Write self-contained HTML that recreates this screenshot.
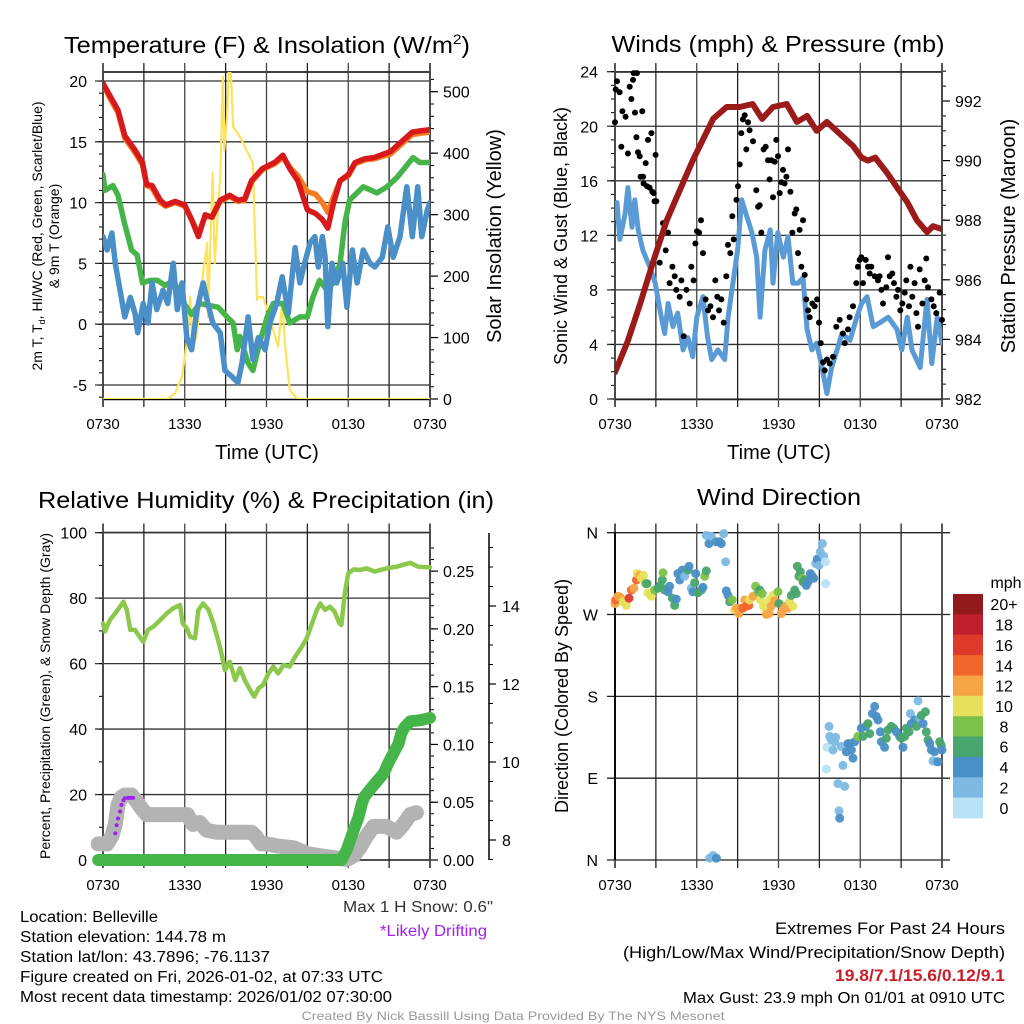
<!DOCTYPE html>
<html><head><meta charset="utf-8"><style>
html,body{margin:0;padding:0;background:#fff}
svg{display:block;font-family:"Liberation Sans",Arial,sans-serif}
</style></head><body>
<svg id="fig" width="1024" height="1024" viewBox="0 0 1024 1024" xmlns="http://www.w3.org/2000/svg">
<rect width="1024" height="1024" fill="#fff"/>
<defs>
<clipPath id="c1"><rect x="103" y="72" width="327" height="327"/></clipPath>
<clipPath id="c2"><rect x="615" y="72" width="327" height="327"/></clipPath>
</defs>
<text x="267" y="53" font-size="23" text-anchor="middle" textLength="406" lengthAdjust="spacingAndGlyphs">Temperature (F) &amp; Insolation (W/m<tspan font-size="14" dy="-9">2</tspan><tspan dy="9">)</tspan></text>
<text x="778" y="52" font-size="23" text-anchor="middle" textLength="333" lengthAdjust="spacingAndGlyphs">Winds (mph) &amp; Pressure (mb)</text>
<text x="266" y="508" font-size="23" text-anchor="middle" textLength="456" lengthAdjust="spacingAndGlyphs">Relative Humidity (%) &amp; Precipitation (in)</text>
<text x="779" y="505" font-size="23" text-anchor="middle" textLength="164" lengthAdjust="spacingAndGlyphs">Wind Direction</text>

<text x="267" y="459" font-size="20" text-anchor="middle">Time (UTC)</text>
<text x="779" y="459" font-size="20" text-anchor="middle">Time (UTC)</text>

<text transform="translate(42,236) rotate(-90)" font-size="14" text-anchor="middle">2m T, T<tspan font-size="9" dy="3">d</tspan><tspan dy="-3">, HI/WC (Red, Green, Scarlet/Blue)</tspan></text>
<text transform="translate(59,236) rotate(-90)" font-size="14" text-anchor="middle">&amp; 9m T (Orange)</text>
<text transform="translate(501,236) rotate(-90)" font-size="20" text-anchor="middle">Solar Insolation (Yellow)</text>
<text transform="translate(567,236) rotate(-90)" font-size="18" text-anchor="middle">Sonic Wind &amp; Gust (Blue, Black)</text>
<text transform="translate(1015,236) rotate(-90)" font-size="20" text-anchor="middle">Station Pressure (Maroon)</text>
<text transform="translate(50,696) rotate(-90)" font-size="14" text-anchor="middle">Percent, Precipitation (Green), &amp; Snow Depth (Gray)</text>
<text transform="translate(568,696) rotate(-90)" font-size="18" text-anchor="middle">Direction (Colored By Speed)</text>

<g font-size="15.5">
<text x="20" y="922" textLength="138" lengthAdjust="spacingAndGlyphs">Location: Belleville</text>
<text x="20" y="942" textLength="206" lengthAdjust="spacingAndGlyphs">Station elevation: 144.78 m</text>
<text x="20" y="962" textLength="250" lengthAdjust="spacingAndGlyphs">Station lat/lon: 43.7896; -76.1137</text>
<text x="20" y="982" textLength="363" lengthAdjust="spacingAndGlyphs">Figure created on Fri, 2026-01-02, at 07:33 UTC</text>
<text x="20" y="1002" textLength="372" lengthAdjust="spacingAndGlyphs">Most recent data timestamp: 2026/01/02 07:30:00</text>
</g>
<text x="343" y="912" font-size="15.5" fill="#333" textLength="150" lengthAdjust="spacingAndGlyphs">Max 1 H Snow: 0.6"</text>
<text x="380" y="936" font-size="15.5" fill="#a020f0" textLength="107" lengthAdjust="spacingAndGlyphs">*Likely Drifting</text>
<g font-size="16.5" text-anchor="end">
<text x="1005" y="934" textLength="230" lengthAdjust="spacingAndGlyphs">Extremes For Past 24 Hours</text>
<text x="1005" y="958" textLength="382" lengthAdjust="spacingAndGlyphs">(High/Low/Max Wind/Precipitation/Snow Depth)</text>
<text x="1005" y="981" fill="#c8202a" font-weight="bold" textLength="170" lengthAdjust="spacingAndGlyphs">19.8/7.1/15.6/0.12/9.1</text>
<text x="1005" y="1003" font-size="15.5" textLength="322" lengthAdjust="spacingAndGlyphs">Max Gust: 23.9 mph On 01/01 at 0910 UTC</text>
</g>
<text x="513" y="1020" font-size="12" fill="#999" text-anchor="middle" textLength="423" lengthAdjust="spacingAndGlyphs">Created By Nick Bassill Using Data Provided By The NYS Mesonet</text>
<g id="layer"></g>
</svg>
<script>
// ---------- data ----------
const xTickHours = [0, 6, 12, 18, 24];
const xTickLabels = ['0730', '1330', '1930', '0130', '0730'];
const tempTicks = [20, 15, 10, 5, 0, -5];
const insolTicks = [0, 100, 200, 300, 400, 500];
const windTicks = [0, 4, 8, 12, 16, 20, 24];
const presTicks = [982, 984, 986, 988, 990, 992];
const rhTicks = [0, 20, 40, 60, 80, 100];
const precipTicks = [0, 0.05, 0.10, 0.15, 0.20, 0.25];
const snowTicks = [8, 10, 12, 14];
const dirTicks = [0, 90, 180, 270, 360];
const dirTickLabels = ['N', 'E', 'S', 'W', 'N'];
const speedBins = ['0', '2', '4', '6', '8', '10', '12', '14', '16', '18', '20+'];

const tempHours = [0,0.5,1.1,1.6,2.3,2.9,3.2,3.6,4.2,4.6,5.3,6.0,6.5,7.0,7.5,8.0,8.6,9.3,9.9,10.4,10.9,11.7,12.6,13.2,13.7,14.3,15.0,15.6,16.1,16.5,16.9,17.4,18.0,18.5,19.2,19.9,21.1,21.8,22.7,23.3,24];
const temp2m = [19.8,18.8,17.6,15.5,14.4,13.3,11.5,11.4,10.2,9.8,10.1,9.8,8.6,7.2,9.0,8.8,10.2,10.6,10.2,10.3,11.8,12.8,13.3,13.9,12.8,11.8,9.4,9.1,8.6,7.9,9.9,11.8,12.3,13.3,13.6,13.7,14.2,14.9,15.8,15.9,16.0];
const temp9m = [19.7,18.6,17.4,15.3,14.2,13.1,11.4,11.2,10.0,9.7,10.0,9.7,8.6,7.4,8.9,8.8,10.1,10.5,10.1,10.2,11.7,12.7,13.2,13.7,12.9,12.2,10.9,10.7,10.0,9.2,10.4,11.8,12.2,13.2,13.5,13.6,14.0,14.7,15.6,15.7,15.8];
const dewHours = [0,0.15,0.73,1.1,1.6,2.1,2.5,2.9,3.45,4.0,4.55,5.05,5.65,6.0,6.5,7.1,7.5,8.45,9.1,9.55,9.85,10.05,10.65,11.0,11.5,12.05,12.5,13.2,13.7,14.45,15.0,15.4,15.9,16.45,16.9,17.4,17.75,18.1,19.1,20.1,20.85,21.6,22.75,23.25,24];
const dewVals = [12.3,11.0,11.4,10.6,8.2,6.1,5.7,3.4,3.6,3.6,3.2,3.5,2.8,1.6,0.8,1.7,1.6,1.4,0.6,0.1,-2.1,-1.0,-3.2,-3.8,-1.5,0.6,1.7,1.7,0.1,0.6,0.6,2.2,3.6,2.8,3.4,5.0,8.3,10.2,11.3,10.8,11.3,12.1,13.7,13.3,13.3];
const wcHours = [0,0.3,0.65,0.9,1.25,1.6,2.0,2.35,2.55,2.95,3.3,3.6,3.95,4.4,4.75,5.15,5.45,5.8,6.15,6.5,6.9,7.35,7.7,8.05,8.6,8.95,9.45,9.9,10.2,10.65,11.0,11.4,11.9,12.25,12.75,13.15,13.6,14.1,14.45,14.8,15.2,15.55,15.8,16.1,16.3,16.5,16.8,17.15,17.6,17.9,18.3,18.65,19.1,19.6,19.95,20.5,20.9,21.3,21.8,22.3,22.7,23.1,23.4,23.8,24];
const wcVals = [7.2,6.1,7.5,5.0,2.8,0.6,2.2,0.9,-0.7,1.7,0.1,3.4,1.2,2.8,1.7,5.0,1.2,3.4,-1.1,-2.1,1.2,3.4,1.7,0.1,-0.7,-3.8,-4.3,-4.8,-3.2,0.6,-2.9,-1.1,-2.1,0.1,1.7,3.9,0.9,6.3,3.4,5.0,6.7,7.2,4.7,7.2,5.5,-0.2,5.0,3.4,5.0,1.4,6.1,3.4,6.1,5.0,4.7,5.5,8.0,5.5,7.2,11.3,7.2,11.3,7.2,9.4,10.0];
const insolHours = [0,4.77,5.3,5.8,6.25,6.4,6.6,6.9,7.25,7.65,7.7,8.05,8.2,8.6,8.8,8.9,9.1,9.25,9.4,9.55,10.05,11.0,11.3,11.4,11.75,12.05,12.5,12.85,13.15,13.35,13.7,14.25,24];
const insolVals = [0,0,10,36,107,166,80,107,189,254,133,368,221,361,524,405,459,547,524,443,427,384,161,166,166,145,112,85,156,91,15,0,0];

const windHours = [0,0.15,0.35,0.75,0.95,1.25,1.45,1.7,2.05,2.55,2.95,3.3,3.65,3.9,4.25,4.6,5.0,5.35,5.7,6.0,6.45,6.8,7.1,7.55,8.05,8.3,8.65,9.0,9.3,9.7,10.05,10.4,10.65,11.0,11.4,11.6,11.95,12.35,12.7,13.05,13.45,13.8,14.1,14.45,14.8,15.2,15.55,15.9,16.3,16.65,17.25,17.75,18.1,18.5,18.95,19.45,20.05,20.7,21.05,21.45,21.8,22.4,22.9,23.25,23.65,24];
const windVals = [13.3,14.4,11.7,13.6,15.5,12.6,14.6,12.4,10.9,9.7,8.5,6.5,4.8,7.0,5.3,6.3,3.6,4.5,3.1,6.0,7.5,4.5,2.9,3.6,2.9,6.0,8.5,10.9,14.6,13.3,12.2,10.4,6.0,10.9,12.4,8.5,12.2,10.4,11.9,8.5,8.5,8.9,5.1,3.6,4.1,2.3,0.4,2.3,3.6,4.8,4.3,6.0,7.0,7.5,5.3,5.6,6.0,5.1,3.6,6.0,3.6,2.3,7.3,2.6,6.0,4.1];
const gustHours = [0,0.05,0.15,0.34,0.46,0.54,0.78,0.95,1.08,1.2,1.32,1.37,1.47,1.57,1.61,1.69,1.81,1.88,2.0,2.06,2.1,2.25,2.35,2.42,2.54,2.67,2.74,2.84,2.91,2.98,3.03,3.28,3.52,3.72,3.89,4.01,4.21,4.38,4.5,4.75,4.87,5.04,5.24,5.48,5.6,5.77,5.9,6.02,6.17,6.31,6.46,6.65,6.83,7.0,7.19,7.36,7.51,7.63,7.8,7.98,8.17,8.29,8.46,8.61,8.71,8.91,9.03,9.15,9.27,9.39,9.52,9.64,9.76,9.88,10.13,10.37,10.5,10.62,10.74,10.91,11.06,11.23,11.35,11.47,11.6,11.72,11.84,11.96,12.09,12.21,12.33,12.45,12.58,12.7,12.87,13.02,13.19,13.31,13.43,13.55,13.68,13.8,13.92,14.04,14.17,14.29,14.48,14.65,14.83,14.97,15.1,15.27,15.39,15.56,15.76,16.0,16.24,16.49,16.73,16.86,17.1,17.22,17.47,17.71,17.83,17.96,18.08,18.2,18.4,18.57,18.69,18.81,19.06,19.3,19.42,19.55,19.67,19.91,20.04,20.16,20.35,20.48,20.65,20.77,20.94,21.09,21.26,21.38,21.58,21.68,21.82,21.99,22.12,22.24,22.36,22.56,22.73,22.85,22.97,23.22,23.39,23.58,23.83,24.0];
const gustVals = [20.3,22.7,23.3,22.5,18.5,21.1,20.7,18.0,22.9,22.0,23.4,23.9,21.0,19.2,23.9,18.1,17.8,16.3,21.1,16.3,15.8,17.3,15.6,19.0,15.5,19.5,15.2,15.1,14.5,17.9,14.5,10.0,12.9,10.9,12.2,8.5,9.7,9.0,8.0,7.5,8.7,4.6,8.0,7.0,9.7,8.7,11.4,12.3,12.2,13.1,10.7,7.3,6.5,6.8,6.0,8.7,7.5,6.5,7.3,5.6,9.0,11.3,10.7,13.4,11.7,14.6,15.6,17.2,19.5,20.5,20.8,18.3,20.3,19.7,18.9,15.3,14.1,14.2,12.2,18.3,18.5,17.5,16.1,17.5,14.8,17.4,19.0,17.8,15.1,15.9,16.8,15.8,16.3,18.3,15.2,12.2,13.6,13.9,10.7,12.4,9.7,13.1,9.1,7.3,6.5,6.0,7.0,6.8,7.3,5.6,4.1,2.7,2.1,2.9,2.6,3.1,5.3,5.8,4.8,4.1,5.1,6.0,6.8,8.5,9.7,10.2,10.4,8.5,10.2,9.7,9.2,9.7,9.0,8.7,9.0,8.0,7.0,8.2,10.4,9.0,9.2,8.5,7.5,8.0,6.5,7.0,7.8,8.7,6.8,9.7,7.5,8.5,6.3,5.3,9.5,7.0,8.7,10.3,8.2,7.3,6.8,6.3,7.8,5.8];
const presHours = [0,0.9,1.85,2.8,3.8,4.75,5.7,6.45,7.2,8.2,9.15,10.1,10.8,11.6,12.6,13.35,14.1,14.8,15.55,16.5,17.45,18.1,18.55,19.1,19.95,20.7,21.45,22.15,22.9,23.35,24];
const presVals = [982.9,983.9,985.2,986.6,988.0,989.0,990.0,990.7,991.4,991.8,991.8,991.9,991.4,991.8,991.9,991.3,991.5,991.0,991.3,990.9,990.5,990.1,990.0,990.1,989.6,989.1,988.6,988.0,987.6,987.8,987.7];

const rhHours = [0,0.15,0.5,0.9,1.25,1.5,1.75,2.0,2.35,2.6,2.95,3.3,3.7,4.2,4.7,5.15,5.65,5.85,6.15,6.4,6.75,7.0,7.35,7.75,8.1,8.45,8.7,8.95,9.3,9.7,10.05,10.4,10.8,11.1,11.4,11.75,12.15,12.5,12.85,13.25,13.7,14.1,14.6,14.95,15.3,15.7,15.95,16.3,16.65,17.0,17.35,17.5,17.75,18.0,18.4,18.85,19.35,19.95,20.8,21.55,22.55,23.15,24];
const rhVals = [72.3,69.8,73.3,75.4,77.4,78.9,76.4,70.3,70.3,68.7,66.7,70.3,71.3,73.3,75.4,76.9,77.9,72.3,70.8,68.2,67.7,76.4,78.4,76.4,72.3,67.2,63.1,58.0,60.6,55.0,58.6,55.0,51.9,49.9,52.4,53.5,57.0,59.1,57.0,59.6,59.1,62.1,65.2,67.7,71.8,76.4,78.4,76.4,77.4,75.9,72.3,71.8,81.5,87.6,88.8,88.6,89.1,88.1,89.1,89.6,90.8,89.6,89.4];
const precipHours = [-0.35,17.5,17.9,18.4,18.75,19.0,19.2,19.6,20.1,20.6,20.95,21.3,21.7,21.9,22.15,22.55,23.3,24];
const precipVals = [0,0,0.009,0.026,0.037,0.049,0.055,0.061,0.068,0.075,0.084,0.092,0.101,0.11,0.115,0.12,0.121,0.123];
const snowHours = [-0.35,0.3,0.65,0.9,1.1,1.35,1.6,2.1,2.45,2.85,3.2,6.2,6.6,7.1,7.6,8.35,10.9,11.2,11.6,12.0,12.75,14.0,15.0,15.9,17.9,18.4,18.85,19.35,19.85,20.8,21.55,22.05,22.55,23.0];
const snowVals = [7.9,7.9,8.1,8.4,8.9,9.1,9.15,9.15,9.0,8.8,8.65,8.65,8.4,8.45,8.25,8.2,8.2,8.1,7.9,7.9,7.85,7.8,7.65,7.6,7.5,7.6,7.8,8.1,8.35,8.35,8.2,8.4,8.65,8.7];
const driftHours = [0.9,1.0,1.1,1.25,1.35,1.5,1.6,1.85,2.0,2.2];
const driftVals = [8.17,8.38,8.55,8.73,8.9,9.02,9.07,9.08,9.08,9.08];

const dirHours = [0,0.05,0.22,0.39,0.59,0.83,1.03,1.2,1.39,1.57,1.64,1.81,1.93,2.1,2.25,2.35,2.42,2.67,2.91,3.16,3.33,3.47,3.52,3.65,3.89,4.01,4.21,4.38,4.5,4.62,4.75,4.94,5.11,5.36,5.43,5.6,5.72,5.85,5.92,6.09,6.34,6.46,6.58,6.7,
6.7,6.9,7.07,7.44,7.68,7.8,7.98,8.12,8.17,8.29,
6.95,7.19,7.44,
8.42,8.61,8.78,8.91,9.1,9.22,9.39,9.52,9.64,9.83,9.88,10.13,10.32,10.5,10.62,10.67,10.81,10.91,11.06,11.11,11.3,11.35,11.47,11.6,11.72,11.96,12.04,12.21,12.33,12.53,12.7,12.82,12.94,13.06,13.19,13.31,
13.38,13.5,13.6,13.75,13.8,13.92,14.04,14.17,14.34,14.48,14.58,14.73,14.85,14.97,15.07,15.22,15.32,15.44,15.46,
15.51,15.56,15.71,15.76,15.88,16.0,16.12,16.2,16.37,16.44,16.49,16.61,16.73,16.86,16.98,17.1,17.22,17.35,17.47,17.59,17.83,18.08,18.2,18.4,18.57,18.69,18.89,19.06,19.18,19.3,19.47,19.55,19.79,19.91,20.04,20.28,20.45,20.65,20.89,21.02,21.14,21.26,21.38,21.58,21.68,21.75,21.99,22.12,22.24,22.36,22.48,22.61,22.78,22.85,22.97,23.1,23.22,23.34,23.46,23.58,23.71,23.83,23.95,24.0];
const dirDeg = [282,286,290,289,284,280,288,297,299,308,315,313,310,313,304,304,294,290,297,299,302,308,316,297,295,301,288,280,287,315,308,319,312,319,323,299,295,305,315,294,297,300,312,318,
357,348,356,350,350,348,359,328,296,291,
2,5,2,
284,286,275,277,271,277,277,286,279,280,286,290,301,295,297,286,293,279,277,270,271,286,279,291,285,295,282,271,275,279,277,284,291,279,297,293,
323,312,317,310,306,308,302,306,315,312,310,326,331,324,339,348,334,328,304,
100,124,147,136,132,121,130,135,84,54,46,125,104,81,119,128,128,121,112,130,136,145,136,147,150,139,161,169,158,154,141,130,124,134,143,147,145,141,136,134,124,136,145,141,161,150,154,147,175,156,159,150,163,141,132,128,121,109,119,108,108,130,126,121];
const dirSpeed = [12,14,13,12,10,11,16,14,13,14,11,12,10,10,9,7,10,11,8,7,6,7,8,6,5,4,6,6,5,4,4,4,3,6,4,3,5,6,5,6,7,4,8,6,
3,4,2,4,4,4,2,2,4,5,
2,3,4,
7,8,10,12,12,13,14,13,14,14,11,12,8,8,7,10,8,11,10,12,12,10,12,10,13,8,6,12,12,13,12,10,7,11,7,6,
6,7,6,8,7,6,4,4,4,4,4,3,4,3,3,2,3,1,1,
1,1,2,2,2,3,2,2,3,3,4,3,3,3,4,4,4,4,4,4,8,4,6,4,6,6,4,4,4,4,4,4,4,6,7,6,7,4,4,6,4,6,6,6,3,4,4,7,2,3,6,4,7,6,6,4,4,2,4,3,4,6,6,4];
const binColors = ['#b8e2f6','#7db9e3','#4a8fc6','#48a56c','#7cc14a','#e6e05a','#f6a546','#f0662d','#dd3a2c','#be1e2d','#921a1d'];

// ---------- scales ----------
const X1 = 103, X2 = 615, PW = 327;
function x1(h){ return X1 + h * PW / 24; }
function x2(h){ return X2 + h * PW / 24; }
function yT(t){ return 81 + (20 - t) * 12.16; }
function yI(v){ return 399 - v * 307.3 / 500; }
function yW(m){ return 399 - m * 327.3 / 24; }
function yP(p){ return 399 - (p - 982) * 29.8; }
function yR(r){ return 860 - r * 3.273; }
function yPr(p){ return 860 - p * 1155.6; }
function yS(s){ return 840 - (s - 8) * 39; }
function yD(d){ return 860 - d * 327.3 / 360; }

const NS = 'http://www.w3.org/2000/svg';
const layer = document.getElementById('layer');
function mk(tag, attrs, parent){
  const e = document.createElementNS(NS, tag);
  for (const k in attrs) e.setAttribute(k, attrs[k]);
  (parent || layer).appendChild(e);
  return e;
}
function txt(x, y, s, anchor, size, name){
  const t = mk('text', {x: x, y: y, 'text-anchor': anchor, 'font-size': size});
  t.textContent = s;
  
  
  return t;
}
function seg(xa, ya, xb, yb, stroke, w, name, parent){
  const l = mk('line', {x1: xa, y1: ya, x2: xb, y2: yb, stroke: stroke, 'stroke-width': w}, parent);
  
  
  return l;
}
function poly(hs, vs, sx, sy, color, w, name, clip){
  const pts = hs.map((h, i) => sx(h).toFixed(1) + ',' + sy(vs[i]).toFixed(1)).join(' ');
  const p = mk('polyline', {points: pts, fill: 'none', stroke: color, 'stroke-width': w, 'stroke-linejoin': 'round', 'stroke-linecap': 'round'});
  if (clip) p.setAttribute('clip-path', clip);
  
  
  return p;
}

function timeAxis(sx, top, bottom, labelY, prefix){
  for (let h = 0; h <= 24; h += 3) {
    seg(sx(h), top - 9, sx(h), bottom + 8, h % 6 === 0 ? '#444' : '#222', h === 0 || h === 24 ? 1.8 : 1.3, prefix + '-v-grid');
  }
  xTickHours.forEach((h, i) => {
    txt(sx(h), labelY, xTickLabels[i], 'middle', 15, prefix + '-x-tick-label');
  });
}
function frame(x, y, name){
  const r = mk('rect', {x: x, y: y, width: PW, height: 327.5, fill: 'none', stroke: '#000', 'stroke-width': 1.5});
  
  
}

// ===== Panel 1 =====
frame(X1, 72, 'p1-plot-frame');
tempTicks.forEach(t => {
  seg(95, yT(t), 430, yT(t), '#333', 1.3, 'p1-h-grid');
  txt(87, yT(t) + 6, String(t), 'end', 16, 'p1-y-tick-label');
});
for (let t = -6; t <= 20; t++) seg(99, yT(t), 103, yT(t), '#000', 1, 'p1-minor-tick');
insolTicks.forEach(v => {
  seg(430, yI(v), 438, yI(v), '#000', 1.2, 'p1-right-tick');
  txt(443, yI(v) + 6, String(v), 'start', 16, 'p1-right-tick-label');
});
for (let v = 0; v <= 520; v += 20) seg(430, yI(v), 434, yI(v), '#000', 1, 'p1-right-minor-tick');
timeAxis(x1, 72, 399, 429, 'p1');
poly(insolHours, insolVals, x1, yI, '#fde35a', 2.2, 'insolation-line', 'url(#c1)');
poly(dewHours, dewVals, x1, yT, '#46b549', 5.5, 'dewpoint-line', 'url(#c1)');
poly(wcHours, wcVals, x1, yT, '#4a8fc8', 5.5, 'windchill-line', 'url(#c1)');
poly(tempHours, temp9m, x1, yT, '#f47c20', 5.5, 'temp-9m-line', 'url(#c1)');
poly(tempHours, temp2m, x1, yT, '#d7191c', 5.5, 'temp-2m-line', 'url(#c1)');

// ===== Panel 2 =====
frame(X2, 72, 'p2-plot-frame');
windTicks.forEach(m => {
  seg(607, yW(m), 942, yW(m), '#333', 1.3, 'p2-h-grid');
  txt(598, yW(m) + 6, String(m), 'end', 16, 'p2-y-tick-label');
});
for (let m = 0; m <= 24; m++) seg(611, yW(m), 615, yW(m), '#000', 1, 'p2-minor-tick');
presTicks.forEach(p => {
  seg(942, yP(p), 950, yP(p), '#000', 1.2, 'p2-right-tick');
  txt(955, yP(p) + 6, String(p), 'start', 16, 'p2-right-tick-label');
});
for (let p = 982; p <= 993; p += 0.5) seg(942, yP(p), 946, yP(p), '#000', 1, 'p2-right-minor-tick');
timeAxis(x2, 72, 399, 429, 'p2');
poly(windHours, windVals, x2, yW, '#5b9bd5', 5, 'sonic-wind-line', 'url(#c2)');
gustHours.forEach((h, i) => {
  const c = mk('circle', {cx: x2(h).toFixed(1), cy: yW(gustVals[i]).toFixed(1), r: 3, fill: '#000'});
  
  
});
poly(presHours, presVals, x2, yP, '#9b1b1b', 6, 'pressure-line', 'url(#c2)');

// ===== Panel 3 =====
frame(X1, 532.5, 'p3-plot-frame');
rhTicks.forEach(r => {
  seg(95, yR(r), 430, yR(r), '#333', 1.3, 'p3-h-grid');
  txt(87, yR(r) + 6, String(r), 'end', 16, 'p3-y-tick-label');
});
for (let r = 0; r <= 100; r += 10) seg(99, yR(r), 103, yR(r), '#000', 1, 'p3-minor-tick');
precipTicks.forEach(p => {
  seg(430, yPr(p), 438, yPr(p), '#000', 1.2, 'p3-precip-tick');
  txt(443, yPr(p) + 6, p.toFixed(2), 'start', 16, 'p3-precip-tick-label');
});
for (let p = 0; p <= 0.28; p += 0.01) seg(430, yPr(p), 434, yPr(p), '#000', 1, 'p3-precip-minor-tick');
seg(489, 533, 489, 860, '#000', 1.5, 'snow-depth-axis-line');
snowTicks.forEach(s => {
  seg(489, yS(s), 496, yS(s), '#000', 1.2, 'snow-depth-tick');
  txt(502, yS(s) + 6, String(s), 'start', 16, 'snow-depth-tick-label');
});
for (let s = 7.5; s <= 15.8; s += 0.5) seg(489, yS(s), 493, yS(s), '#000', 1, 'snow-depth-minor-tick');
timeAxis(x1, 532.5, 860, 890, 'p3');
poly(snowHours, snowVals, x1, yS, '#b3b3b3', 15, 'snow-depth-line');
poly(precipHours, precipVals, x1, yPr, '#46b549', 12, 'precip-line');
poly(rhHours, rhVals, x1, yR, '#8cc84b', 4.5, 'rh-line');
driftHours.forEach((h, i) => {
  const c = mk('circle', {cx: x1(h).toFixed(1), cy: yS(driftVals[i]).toFixed(1), r: 2, fill: '#a020f0'});
  
  
});

// ===== Panel 4 =====
dirTicks.forEach((d, i) => {
  seg(607, yD(d), 950, yD(d), '#222', 1.3, 'p4-h-grid');
  txt(598, yD(d) + 6, dirTickLabels[i], 'end', 16, 'p4-y-tick-label');
});
timeAxis(x2, 532.5, 860, 890, 'p4');
seg(X2, 532, X2, 860, '#000', 1.8, 'p4-left-axis');
dirHours.forEach((h, i) => {
  const bin = Math.min(10, Math.floor(dirSpeed[i] / 2));
  const c = mk('circle', {cx: x2(h).toFixed(1), cy: yD(dirDeg[i]).toFixed(1), r: 4.5, fill: binColors[bin], 'fill-opacity': 0.95});
  
  
});
// colorbar
const cbTop = 594, cbH = 224 / speedBins.length;
speedBins.forEach((lab, i) => {
  const k = speedBins.length - 1 - i;
  const r = mk('rect', {x: 953, y: (cbTop + i * cbH).toFixed(1), width: 30, height: (cbH + 0.5).toFixed(1), fill: binColors[k]});
  
  
  txt(1004, cbTop + i * cbH + cbH / 2 + 6, speedBins[k], 'middle', 16, 'colorbar-label');
});
txt(1006, 588, 'mph', 'middle', 16, 'colorbar-title');
</script>
</body></html>
